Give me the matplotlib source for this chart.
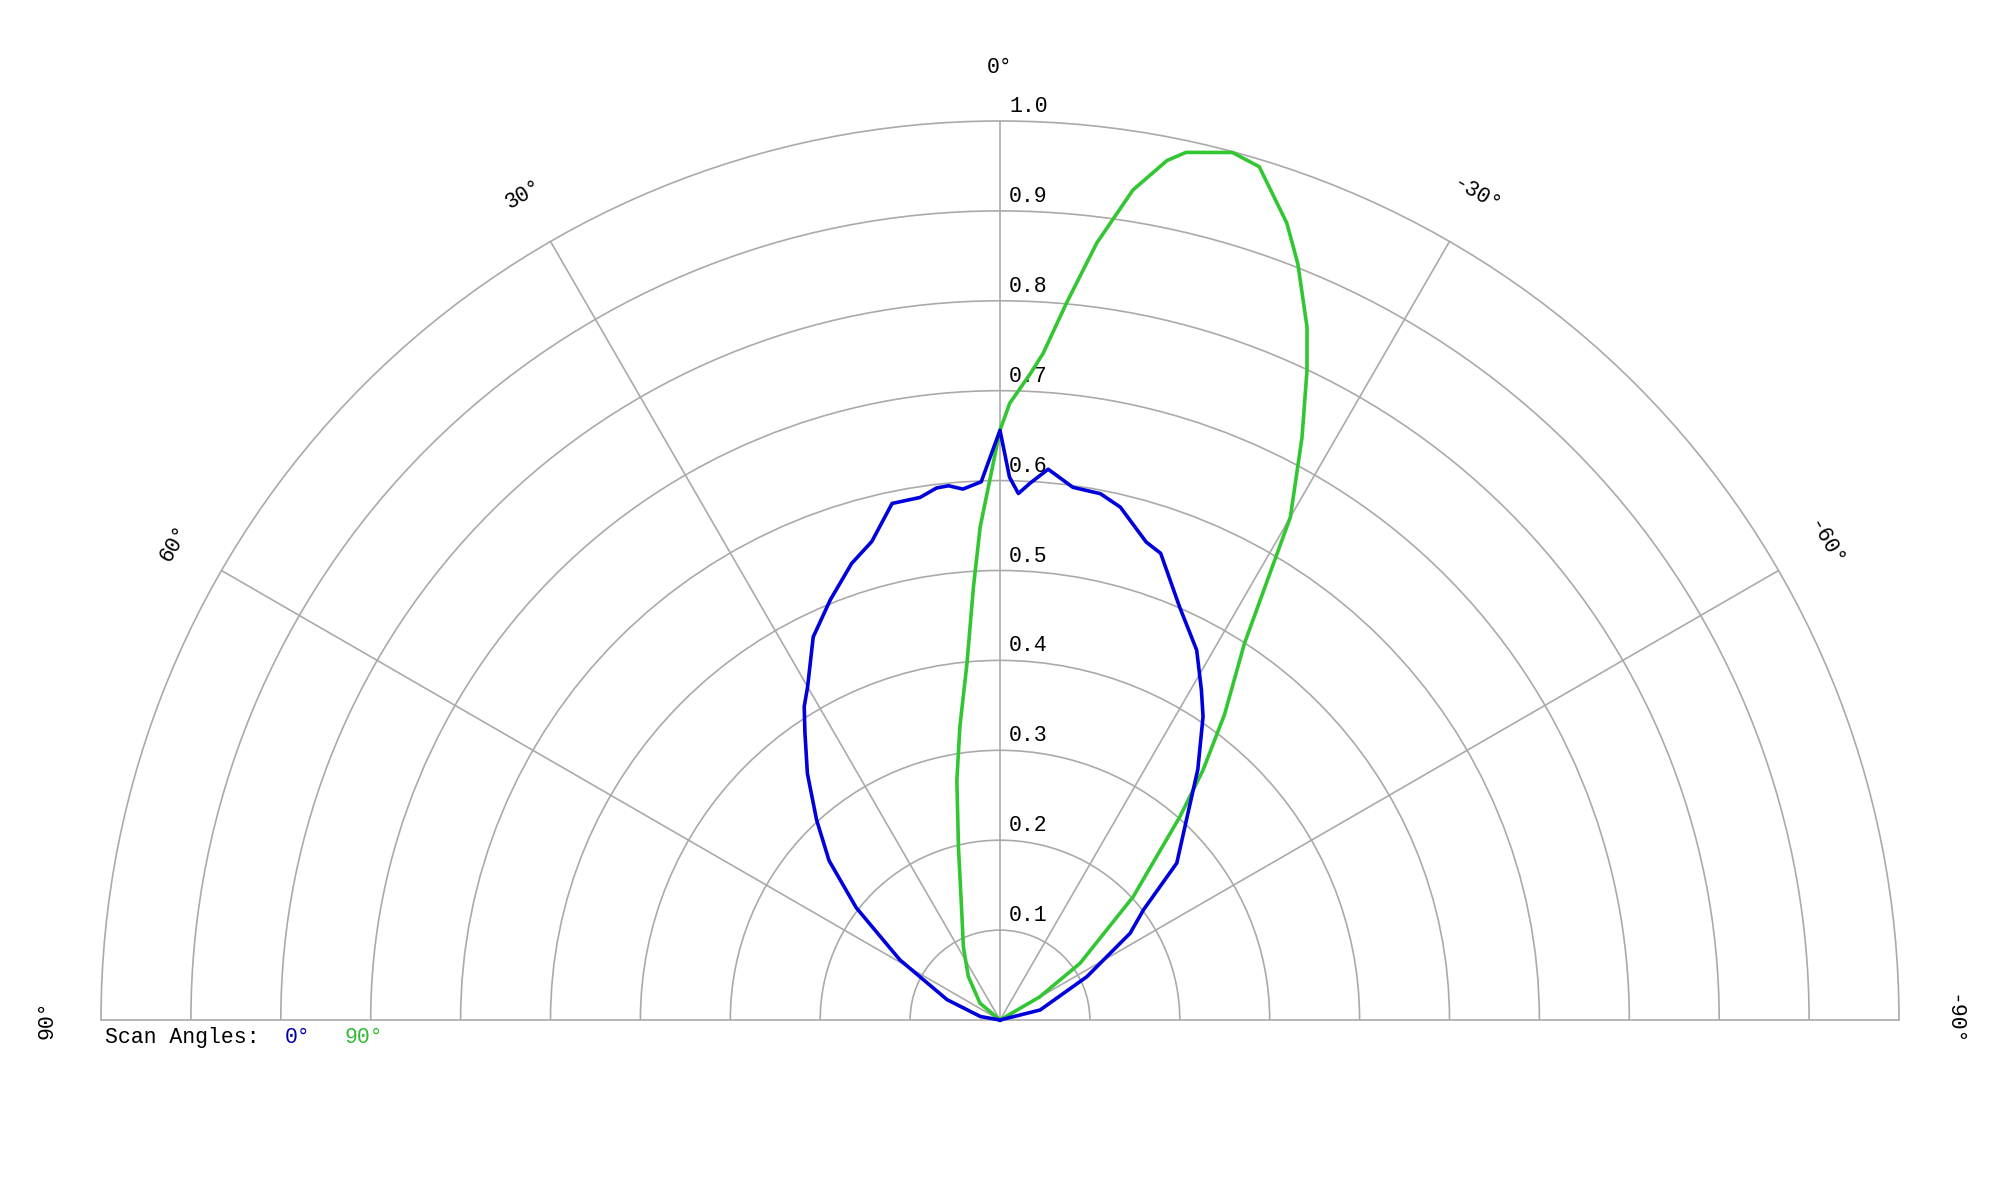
import numpy as np
import matplotlib
matplotlib.use("Agg")
import matplotlib.pyplot as plt

# ---- data (angles in degrees, positive = left of 0°) ----
blue_angles = [90, 80, 69, 59, 52, 47, 42.5, 38, 34.2, 32, 30, 26, 22, 18, 15, 11.8, 8.7, 6.8, 5.5, 4, 2, 0,
               -1, -2, -3.2, -5, -7.8, -10.8, -13.2, -17, -19, -23.5, -28, -31.4, -33.8, -38.3, -43, -48.4,
               -52.5, -56.3, -63.5, -76, -90]
blue_values = [0, 0.022, 0.063, 0.13, 0.203, 0.26, 0.302, 0.348, 0.386, 0.411, 0.428, 0.474, 0.504, 0.534,
               0.551, 0.587, 0.588, 0.596, 0.597, 0.592, 0.599, 0.656,
               0.604, 0.586, 0.598, 0.615, 0.598, 0.596, 0.586, 0.556, 0.549, 0.501, 0.466, 0.43, 0.406,
               0.355, 0.304, 0.263, 0.201, 0.174, 0.108, 0.046, 0]

green_angles = [90, 50, 36, 26.6, 19.7, 13.5, 10.2, 7.8, 5.3, 3.5, 2.3, 0, -0.9, -2.7, -3.7, -5.3, -7.1,
                -9.1, -11, -12.1, -15, -16.9, -19.8, -21.5, -23.9, -25.3, -27.4, -30, -33, -36.3, -39.1,
                -41.5, -47.2, -54.7, -59.8, -90]
green_values = [0, 0.029, 0.06, 0.091, 0.126, 0.198, 0.271, 0.329, 0.398, 0.483, 0.549, 0.656, 0.686, 0.72,
                0.743, 0.801, 0.871, 0.935, 0.974, 0.987, 0.999, 0.992, 0.942, 0.904, 0.843, 0.799, 0.73,
                0.646, 0.499, 0.422, 0.358, 0.302, 0.202, 0.109, 0.051, 0]

ring_values = [0.1, 0.2, 0.3, 0.4, 0.5, 0.6, 0.7, 0.8, 0.9, 1.0]
ring_labels = ["0.1", "0.2", "0.3", "0.4", "0.5", "0.6", "0.7", "0.8", "0.9", "1.0"]
spoke_angles = [-60, -30, 0, 30, 60]
angle_label_pos = [0, 30, -30, 60, -60, 90, -90]
angle_label_text = ["0°", "30°", "-30°", "60°", "-60°", "90°", "-90°"]
series_names = ["0°", "90°"]

BLUE = "#0000dd"
GREEN = "#33c633"
GRID = "#aaaaaa"
FONT = ["Liberation Mono", "DejaVu Sans Mono"]

W, H = 2000, 1200
fig = plt.figure(figsize=(20, 12), dpi=100)
fig.patch.set_facecolor("white")

cx, cy, R = 1000, 1020, 899
# square axes box; the upper half-wedge fills its width and is centred vertically
box_center_y = cy - R / 2.0          # pixels from top
box_bottom = box_center_y + R        # pixels from top
ax = fig.add_axes([(cx - R) / W, (H - box_bottom) / H, 2 * R / W, 2 * R / H], projection="polar")
ax.set_theta_zero_location("N")
ax.set_theta_direction(1)
ax.set_thetamin(-90)
ax.set_thetamax(90)
ax.set_ylim(0, 1.0)
ax.patch.set_alpha(0)

ax.set_thetagrids(spoke_angles, labels=[""] * len(spoke_angles))
ax.set_rgrids(ring_values[:-1], labels=[""] * (len(ring_values) - 1))
ax.grid(True, color=GRID, linewidth=1.2)
ax.tick_params(length=0)
for s in ax.spines.values():
    s.set_color(GRID)
    s.set_linewidth(1.2)
ax.spines["inner"].set_visible(False)

ax.plot(np.deg2rad(blue_angles), blue_values, color=BLUE, lw=2.6, zorder=5, clip_on=False)
ax.plot(np.deg2rad(green_angles), green_values, color=GREEN, lw=2.6, zorder=4, clip_on=False)

fs = 15.5
for v, lab in zip(ring_values, ring_labels):
    ax.annotate(lab, xy=(0, v), xytext=(9, 9), textcoords="offset pixels",
                ha="left", va="baseline", fontsize=fs, family=FONT, color="black",
                annotation_clip=False)

for a, lab in zip(angle_label_pos, angle_label_text):
    ax.text(np.deg2rad(a), 1.06, lab, rotation=a, rotation_mode="anchor",
            ha="center", va="center", fontsize=fs, family=FONT, color="black", clip_on=False)

fig.text(105 / W, 1 - 1043 / H, "Scan Angles:", ha="left", va="baseline",
         fontsize=fs, family=FONT, color="black")
fig.text(285 / W, 1 - 1043 / H, series_names[0], ha="left", va="baseline",
         fontsize=fs, family=FONT, color="#0000aa")
fig.text(345 / W, 1 - 1043 / H, series_names[1], ha="left", va="baseline",
         fontsize=fs, family=FONT, color="#33bb33")

fig.savefig("out.png", dpi=100, facecolor="white")
